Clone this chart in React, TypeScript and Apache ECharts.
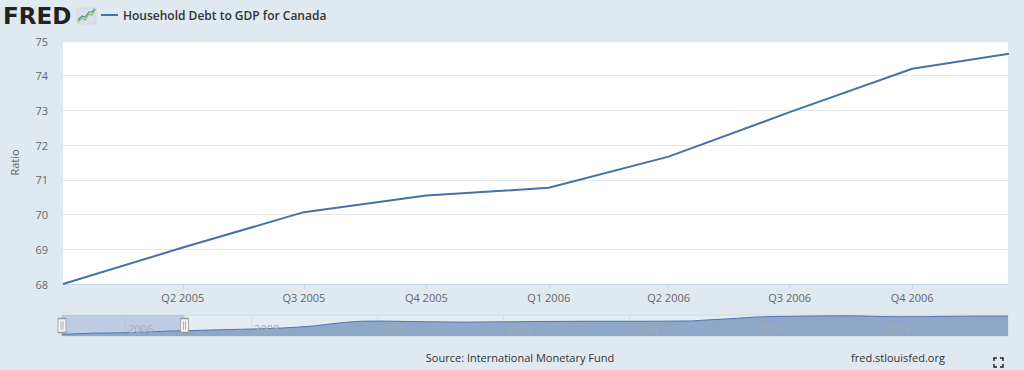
import React, { useEffect, useRef } from "react";
import * as echarts from "echarts";

// Quarterly ratio, Q1 2005 .. Q1 2020
const startYear = 2005;
const ratioValues = [
  68.0, 69.05, 70.07, 70.55,
  70.77, 71.67, 72.95, 74.2,
  74.75, 75.5, 76.3, 77.0,
  77.7, 78.5, 79.5, 81.3,
  83.5, 87.0, 90.0, 92.0,
  92.3, 92.0, 91.6, 91.2,
  90.8, 90.5, 90.5, 90.7,
  91.0, 91.2, 91.5, 91.7,
  91.8, 91.9, 92.0, 92.0,
  92.0, 92.0, 92.1, 92.3,
  92.7, 94.5, 96.0, 97.8,
  99.7, 100.6, 101.1, 101.5,
  101.7, 101.9, 102.0, 101.5,
  100.6, 100.4, 100.4, 100.5,
  101.1, 101.3, 101.5, 101.5,
  101.5,
];
const xTickLabels = ["Q2 2005", "Q3 2005", "Q4 2005", "Q1 2006", "Q2 2006", "Q3 2006", "Q4 2006"];
const navYearLabels = ["2006", "2008", "2010", "2012", "2014", "2016", "2018"];
const seriesName = "Household Debt to GDP for Canada";

const quarterTime = (i: number) => Date.UTC(startYear + Math.floor(i / 4), (i % 4) * 3, 1);
const labelToTime = (s: string) => {
  const [q, y] = s.split(" ");
  return Date.UTC(parseInt(y, 10), (parseInt(q.slice(1), 10) - 1) * 3, 1);
};
const seriesData = ratioValues.map((v, i) => [quarterTime(i), v]);

const windowStart = Date.UTC(2005, 0, 1);
const windowEnd = Date.UTC(2006, 11, 12);
const navStart = Date.UTC(2005, 0, 1);
const navEnd = Date.UTC(2020, 0, 1);
const navMin = 64.9;
const navMax = 103.5;
const font = "Open Sans";

export default function App() {
  const ref = useRef<HTMLDivElement>(null);
  useEffect(() => {
    document.body.style.margin = "0";
    const chart = echarts.init(ref.current!, undefined, { renderer: "svg" });
    const mainTicks = xTickLabels.map(labelToTime);
    const navTicks = navYearLabels.map((y) => Date.UTC(parseInt(y, 10), 0, 1));
    const yearFmt = (v: number) => String(new Date(v).getUTCFullYear());
    chart.setOption({
      animation: false,
      backgroundColor: "#e1e9f0",
      textStyle: { fontFamily: font },
      legend: {
        data: [seriesName],
        left: 96,
        top: 4,
        icon: "rect",
        itemWidth: 17,
        itemHeight: 2,
        itemGap: 5,
        textStyle: { fontFamily: font, fontSize: 12, fontWeight: 600, color: "#333" },
      },
      grid: [
        { left: 63, right: 16, top: 41, bottom: 86, show: true, backgroundColor: "#ffffff", borderWidth: 0 },
        { left: 62, right: 16, top: 315, bottom: 34, show: true, backgroundColor: "rgba(255,255,255,0.12)", borderWidth: 0 },
      ],
      xAxis: [
        {
          type: "value",
          gridIndex: 0,
          min: windowStart,
          max: windowEnd,
          axisLine: { lineStyle: { color: "#ccd6eb" } },
          axisTick: { show: true, length: 5, lineStyle: { color: "#ccd6eb" }, customValues: mainTicks },
          axisLabel: {
            customValues: mainTicks,
            color: "#666",
            fontSize: 11,
            margin: 8,
            fontFamily: font,
            formatter: (v: number) => {
              const d = new Date(v);
              return `Q${Math.floor(d.getUTCMonth() / 3) + 1} ${d.getUTCFullYear()}`;
            },
          },
          splitLine: { show: false },
        },
        {
          type: "value",
          gridIndex: 1,
          min: navStart,
          max: navEnd,
          z: 6,
          axisLine: { show: false },
          axisTick: { show: false, customValues: navTicks },
          axisLabel: {
            customValues: navTicks,
            inside: true,
            align: "left",
            margin: 2,
            padding: [0, 0, 0, 3],
            color: "#a3abb5",
            fontSize: 11,
            fontFamily: font,
            formatter: yearFmt,
          },
          splitLine: { show: false },
        },
        {
          type: "value",
          gridIndex: 1,
          min: navStart,
          max: navEnd,
          z: 0,
          axisLine: { show: false },
          axisTick: { show: false, customValues: navTicks },
          axisLabel: { show: false, customValues: navTicks, formatter: yearFmt },
          splitLine: { show: true, lineStyle: { color: "#d6dee6", width: 1 } },
        },
      ],
      yAxis: [
        {
          type: "value",
          gridIndex: 0,
          min: 68,
          max: 75,
          interval: 1,
          name: "Ratio",
          nameLocation: "middle",
          nameGap: 43,
          nameRotate: 90,
          nameTextStyle: { color: "#666", fontSize: 11, fontFamily: font },
          axisLine: { show: false },
          axisTick: { show: false },
          axisLabel: { color: "#666", fontSize: 11, margin: 15, fontFamily: font },
          splitLine: { lineStyle: { color: "#e6e6e6" } },
        },
        {
          type: "value",
          gridIndex: 1,
          min: navMin,
          max: navMax,
          axisLine: { show: false },
          axisTick: { show: false },
          axisLabel: { show: false },
          splitLine: { show: false },
        },
      ],
      series: [
        {
          name: seriesName,
          type: "line",
          xAxisIndex: 0,
          yAxisIndex: 0,
          data: seriesData,
          symbol: "none",
          clip: true,
          color: "#4572a7",
          lineStyle: { color: "#4572a7", width: 2 },
        },
        {
          name: "navigator",
          type: "line",
          xAxisIndex: 1,
          yAxisIndex: 1,
          data: seriesData,
          symbol: "none",
          silent: true,
          lineStyle: { color: "#4f78ad", width: 1 },
          areaStyle: { color: "#8fa8c9", opacity: 1 },
          markArea: {
            silent: true,
            itemStyle: { color: "rgba(102,133,194,0.3)" },
            data: [[{ xAxis: windowStart }, { xAxis: windowEnd }]],
          },
          markPoint: {
            silent: true,
            symbol: "path://M0,0 L8,0 L8,14 L0,14 Z M3,3 L3,11 M5,3 L5,11",
            symbolSize: [8, 14],
            itemStyle: { color: "#f2f2f2", borderColor: "#999", borderWidth: 1 },
            label: { show: false },
            z: 10,
            data: [
              { coord: [windowStart, (navMin + navMax) / 2] },
              { coord: [windowEnd, (navMin + navMax) / 2] },
            ],
          },
        },
      ],
      graphic: [
        {
          type: "text",
          left: 3,
          top: 4,
          style: { text: "FRED", font: "bold 23px 'DejaVu Sans'", fill: "#222" },
        },
        { type: "rect", shape: { x: 77, y: 8, width: 19, height: 16 }, style: { fill: "#d9e2ea", stroke: "#c3cdd7", lineWidth: 0.5 } },
        { type: "polyline", shape: { points: [[78, 22], [82, 18], [85, 20], [89, 14], [92, 15], [95, 10]] }, style: { stroke: "#8bc34a", lineWidth: 1.3, fill: "none" } },
        { type: "polyline", shape: { points: [[78, 20], [82, 16], [85, 17], [89, 12], [92, 12], [95, 9]] }, style: { stroke: "#4f7ec2", lineWidth: 1.1, fill: "none" } },
        { type: "rect", shape: { x: 62, y: 315, width: 946, height: 21 }, style: { fill: "none", stroke: "#d0d9e2", lineWidth: 1 } },
        {
          type: "text",
          x: 520,
          y: 357,
          style: { text: "Source: International Monetary Fund", font: `11px '${font}'`, fill: "#333", align: "center", verticalAlign: "middle" },
        },
        {
          type: "text",
          x: 898,
          y: 357,
          style: { text: "fred.stlouisfed.org", font: `11px '${font}'`, fill: "#333", align: "center", verticalAlign: "middle" },
        },
        { type: "polyline", shape: { points: [[994, 361], [994, 358], [997, 358]] }, style: { stroke: "#222", lineWidth: 1.5, fill: "none" } },
        { type: "polyline", shape: { points: [[1000, 358], [1003, 358], [1003, 361]] }, style: { stroke: "#222", lineWidth: 1.5, fill: "none" } },
        { type: "polyline", shape: { points: [[994, 364], [994, 367], [997, 367]] }, style: { stroke: "#222", lineWidth: 1.5, fill: "none" } },
        { type: "polyline", shape: { points: [[1000, 367], [1003, 367], [1003, 364]] }, style: { stroke: "#222", lineWidth: 1.5, fill: "none" } },
      ],
    });
    return () => chart.dispose();
  }, []);
  return <div ref={ref} style={{ width: 1024, height: 370, position: "absolute", left: 0, top: 0 }} />;
}
